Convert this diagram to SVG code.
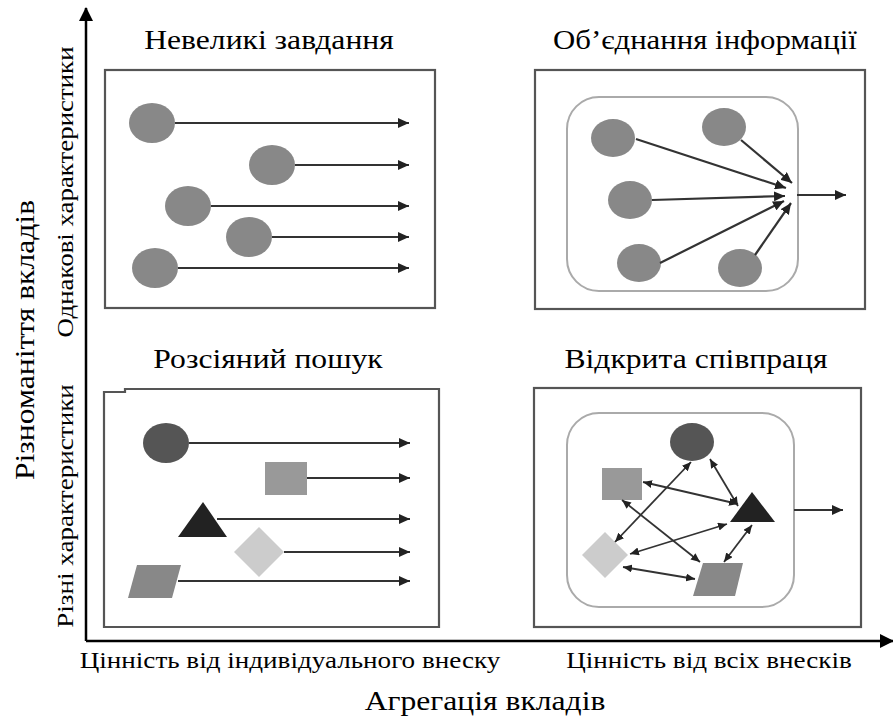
<svg xmlns="http://www.w3.org/2000/svg" width="893" height="719" viewBox="0 0 893 719" font-family="'Liberation Serif', 'Times New Roman', serif">
<defs>
<marker id="ah" markerUnits="userSpaceOnUse" markerWidth="11" markerHeight="10" refX="11" refY="5" orient="auto"><path d="M0,0 L11,5 L0,10 z" fill="#222"/></marker>
<marker id="ahs" markerUnits="userSpaceOnUse" markerWidth="9" markerHeight="8" refX="9" refY="4" orient="auto-start-reverse"><path d="M0,0 L9,4 L0,8 z" fill="#222"/></marker>
<marker id="axis" markerUnits="userSpaceOnUse" markerWidth="14" markerHeight="14" refX="13" refY="7" orient="auto"><path d="M0,0 L14,7 L0,14 z" fill="#000"/></marker>
</defs>
<style>
text{font-family:'Liberation Serif','Times New Roman',serif}
.panel{fill:#fff;stroke:#555;stroke-width:2.2}
.inner{fill:none;stroke:#aaa;stroke-width:2}
.ln{stroke:#333;stroke-width:2.2;fill:none;marker-end:url(#ah)}
.dl{stroke:#333;stroke-width:1.8;fill:none;marker-start:url(#ahs);marker-end:url(#ahs)}
</style>

<g id="axes" stroke="#000" stroke-width="2.5" fill="none" marker-end="url(#axis)">
<path d="M86,641 L86,8"/>
<path d="M86,641 L893,641"/>
</g>

<g id="axis-labels" text-anchor="middle">
<text x="0" y="0" font-family="Liberation Serif" font-size="24" transform="translate(290,668) scale(1.13,1)">Цінність від індивідуального внеску</text>
<text x="0" y="0" font-family="Liberation Serif" font-size="24" transform="translate(709,668) scale(1.13,1)">Цінність від всіх внесків</text>
<text x="0" y="0" font-family="Liberation Serif" font-size="28" transform="translate(485,710) scale(1.13,1)">Агрегація вкладів</text>
<text x="0" y="0" font-family="Liberation Serif" font-size="28" transform="translate(34,340) rotate(-90) scale(1.13,1)">Різноманіття вкладів</text>
<text x="0" y="0" font-family="Liberation Serif" font-size="24" transform="translate(73,192) rotate(-90) scale(1.12,1)">Однакові характеристики</text>
<text x="0" y="0" font-family="Liberation Serif" font-size="24" transform="translate(73,506) rotate(-90) scale(1.13,1)">Різні характеристики</text>
</g>

<g id="panel-small-tasks">
<text x="0" y="0" font-family="Liberation Serif" font-size="28" text-anchor="middle" transform="translate(269,49) scale(1.13,1)">Невеликі завдання</text>
<rect class="panel" x="105" y="70" width="330" height="238"/>
<g fill="#888">
<ellipse cx="152" cy="123" rx="23" ry="20"/>
<ellipse cx="272" cy="165" rx="23" ry="20"/>
<ellipse cx="188" cy="206" rx="23" ry="20"/>
<ellipse cx="249" cy="237" rx="23" ry="20"/>
<ellipse cx="155" cy="268" rx="23" ry="20"/>
</g>
</g>

<g id="panel-integration">
<text x="0" y="0" font-family="Liberation Serif" font-size="28" text-anchor="middle" transform="translate(705,49) scale(1.1,1)">Об’єднання інформації</text>
<rect class="panel" x="535" y="70" width="330" height="239"/>
<rect class="inner" x="567" y="97" width="231" height="194" rx="32"/>
<g fill="#888">
<ellipse cx="613" cy="138" rx="22" ry="19"/>
<ellipse cx="724" cy="127" rx="22" ry="19"/>
<ellipse cx="630" cy="200" rx="22" ry="19"/>
<ellipse cx="639" cy="263" rx="22" ry="19"/>
<ellipse cx="740" cy="268" rx="22" ry="19"/>
</g>
</g>

<g id="panel-scattered-search">
<text x="0" y="0" font-family="Liberation Serif" font-size="28" text-anchor="middle" transform="translate(268,368) scale(1.13,1)">Розсіяний пошук</text>
<path class="panel" d="M125,389 H439 V627 H104 V392 H125 Z"/>
<ellipse cx="166" cy="443" rx="23" ry="20" fill="#555"/>
<rect x="265" y="462" width="42" height="33" fill="#999"/>
<polygon points="203,502 178,537 227,537" fill="#222"/>
<polygon points="259,527 284,552 259,577 234,552" fill="#ccc"/>
<polygon points="137,565 181,565 172,598 128,598" fill="#888"/>
</g>

<g id="panel-open-collaboration">
<text x="0" y="0" font-family="Liberation Serif" font-size="28" text-anchor="middle" transform="translate(696,368) scale(1.13,1)">Відкрита співпраця</text>
<rect class="panel" x="534" y="388" width="327" height="239"/>
<rect class="inner" x="567" y="413" width="227" height="194" rx="32"/>
<ellipse cx="692" cy="442" rx="22" ry="19" fill="#555"/>
<rect x="602" y="468" width="40" height="32" fill="#999"/>
<polygon points="752,492 730,522 775,522" fill="#222"/>
<polygon points="605,532 628,555 605,578 582,555" fill="#ccc"/>
<polygon points="703,563 743,563 735,596 693,596" fill="#888"/>
</g>

<g id="connectors">
<path class="ln" d="M175,123 L409,123"/>
<path class="ln" d="M295,165 L409,165"/>
<path class="ln" d="M211,206 L409,206"/>
<path class="ln" d="M272,237 L409,237"/>
<path class="ln" d="M178,268 L409,268"/>
<path class="ln" d="M636,139 L786,188"/>
<path class="ln" d="M741,140 L792,183"/>
<path class="ln" d="M652,200 L785,196"/>
<path class="ln" d="M660,263 L784,201"/>
<path class="ln" d="M755,255 L791,203"/>
<path class="ln" d="M797,195 L846,195"/>
<path class="ln" d="M189,443 L410,443"/>
<path class="ln" d="M307,478 L410,478"/>
<path class="ln" d="M217,519 L410,519"/>
<path class="ln" d="M284,552 L410,552"/>
<path class="ln" d="M178,581 L410,581"/>
<path class="ln" d="M794,510 L843,510"/>
<path class="dl" d="M691,462 L615,542"/>
<path class="dl" d="M710,459 L738,506"/>
<path class="dl" d="M643,482 L738,504"/>
<path class="dl" d="M622,500 L700,562"/>
<path class="dl" d="M727,524 L630,554"/>
<path class="dl" d="M752,525 L724,562"/>
<path class="dl" d="M623,567 L695,579"/>
</g>
</svg>
